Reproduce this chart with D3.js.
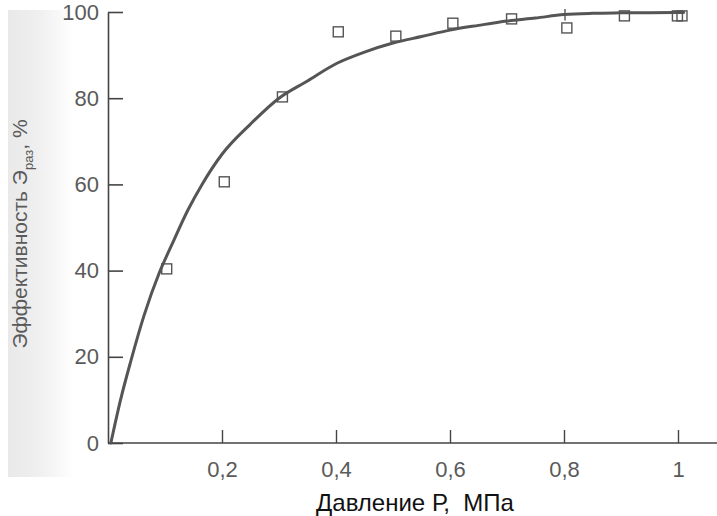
<!DOCTYPE html>
<html>
<head>
<meta charset="utf-8">
<script src="https://cdn.jsdelivr.net/npm/d3@7/dist/d3.min.js"></script>
<style>
  html, body { margin: 0; padding: 0; background: #fff; }
  svg { display: block; }
</style>
</head>
<body>
<svg id="chart" width="717" height="516"></svg>
<script>
// ---- data ----
const pointP = [0.103, 0.204, 0.306, 0.404, 0.505, 0.605, 0.708, 0.805, 0.906, 0.999, 1.007];
const pointE = [40.4, 60.6, 80.3, 95.4, 94.4, 97.4, 98.4, 96.3, 99.1, 99.1, 99.1];

const curveP = [0.005, 0.022, 0.04, 0.063, 0.09, 0.112, 0.14, 0.165, 0.2, 0.25, 0.3, 0.35, 0.4, 0.45, 0.5, 0.55, 0.6, 0.65, 0.7, 0.75, 0.8, 0.85, 0.9, 0.95, 1.01];
const curveE = [0, 10, 19, 29.5, 39.5, 46, 54, 60, 67, 74, 80, 84, 88, 90.7, 92.8, 94.3, 95.8, 96.9, 97.9, 98.6, 99.4, 99.7, 99.8, 99.85, 99.9];

const markP = [0.8];          // small vertical mark crossing the curve
const markLo = [98.0];
const markHi = [100.7];

const xTicks = [0.2, 0.4, 0.6, 0.8, 1];
const yTicks = [0, 20, 40, 60, 80, 100];

const xTitle = "Давление Р,  МПа";
const yTitleMain = "Эффективность Э";
const yTitleSub = "раз";
const yTitleEnd = ", %";

// ---- layout ----
const W = 717, H = 516;
const svg = d3.select("#chart");

const x = d3.scaleLinear().domain([0, 1]).range([108, 678]);
const y = d3.scaleLinear().domain([0, 100]).range([443, 12]);

const ru = d3.formatLocale({decimal: ",", thousands: " ", grouping: [3], currency: ["", ""]});
const fmtX = d => ru.format("~g")(d);

// scanned-page shading strip on the left
const defs = svg.append("defs");
const grad = defs.append("linearGradient").attr("id", "scan").attr("x1", "0").attr("x2", "1");
grad.append("stop").attr("offset", "0").attr("stop-color", "#e9e9e9");
grad.append("stop").attr("offset", "0.45").attr("stop-color", "#efefef");
grad.append("stop").attr("offset", "1").attr("stop-color", "#ffffff");
svg.append("rect").attr("x", 8).attr("y", 10).attr("width", 66).attr("height", 467)
  .attr("fill", "url(#scan)");

const axisColor = "#444";
const textColor = "#5a5a5a";

// y axis
const gy = svg.append("g").attr("transform", `translate(${x(0)},0)`)
  .call(d3.axisLeft(y).tickValues(yTicks).tickSizeInner(-15).tickSizeOuter(0).tickPadding(9));
gy.select(".domain").attr("stroke", axisColor).attr("stroke-width", 1.6);
gy.selectAll(".tick line").attr("stroke", axisColor).attr("stroke-width", 1.6);
gy.selectAll(".tick text").attr("fill", textColor)
  .style("font-family", "'Liberation Sans', Arial, sans-serif").style("font-size", "22px");

// x axis
const gx = svg.append("g").attr("transform", `translate(0,${y(0)})`)
  .call(d3.axisBottom(x).tickValues(xTicks).tickFormat(fmtX).tickSizeInner(-13).tickSizeOuter(0).tickPadding(18));
gx.select(".domain").remove();
gx.append("line").attr("x1", x(0)).attr("x2", W).attr("y1", 0).attr("y2", 0)
  .attr("stroke", axisColor).attr("stroke-width", 1.6);
gx.selectAll(".tick line").attr("stroke", axisColor).attr("stroke-width", 1.4);
gx.selectAll(".tick text").attr("fill", textColor)
  .style("font-family", "'Liberation Sans', Arial, sans-serif").style("font-size", "22px");

// curve
const curveData = curveP.map((p, i) => [p, curveE[i]]);
svg.append("path").datum(curveData)
  .attr("fill", "none").attr("stroke", "#555").attr("stroke-width", 3)
  .attr("stroke-linejoin", "round").attr("stroke-linecap", "round")
  .attr("d", d3.line().x(d => x(d[0])).y(d => y(d[1])).curve(d3.curveMonotoneX));

// vertical mark
svg.selectAll("line.mark").data(markP).join("line").attr("class", "mark")
  .attr("x1", d => x(d) + 1).attr("x2", d => x(d) + 1)
  .attr("y1", (d, i) => y(markHi[i])).attr("y2", (d, i) => y(markLo[i]))
  .attr("stroke", "#555").attr("stroke-width", 1.4);

// data squares
const s = 10;
svg.selectAll("rect.pt").data(pointP.map((p, i) => [p, pointE[i]])).join("rect").attr("class", "pt")
  .attr("x", d => x(d[0]) - s / 2).attr("y", d => y(d[1]) - s / 2)
  .attr("width", s).attr("height", s)
  .attr("fill", "none").attr("stroke", "#555").attr("stroke-width", 1.4);

// x title
svg.append("text").attr("x", 415).attr("y", 511).attr("text-anchor", "middle")
  .attr("fill", "#111").style("font-family", "'Liberation Sans', Arial, sans-serif").style("font-size", "24px")
  .style("white-space", "pre")
  .text(xTitle);

// y title (rotated)
const yt = svg.append("text")
  .attr("transform", "translate(27,234) rotate(-90)")
  .attr("text-anchor", "middle")
  .attr("fill", textColor).style("font-family", "'Liberation Sans', Arial, sans-serif").style("font-size", "21px");
yt.append("tspan").text(yTitleMain);
yt.append("tspan").attr("dy", 6).style("font-size", "13px").text(yTitleSub);
yt.append("tspan").attr("dy", -6).text(yTitleEnd);
</script>
</body>
</html>
